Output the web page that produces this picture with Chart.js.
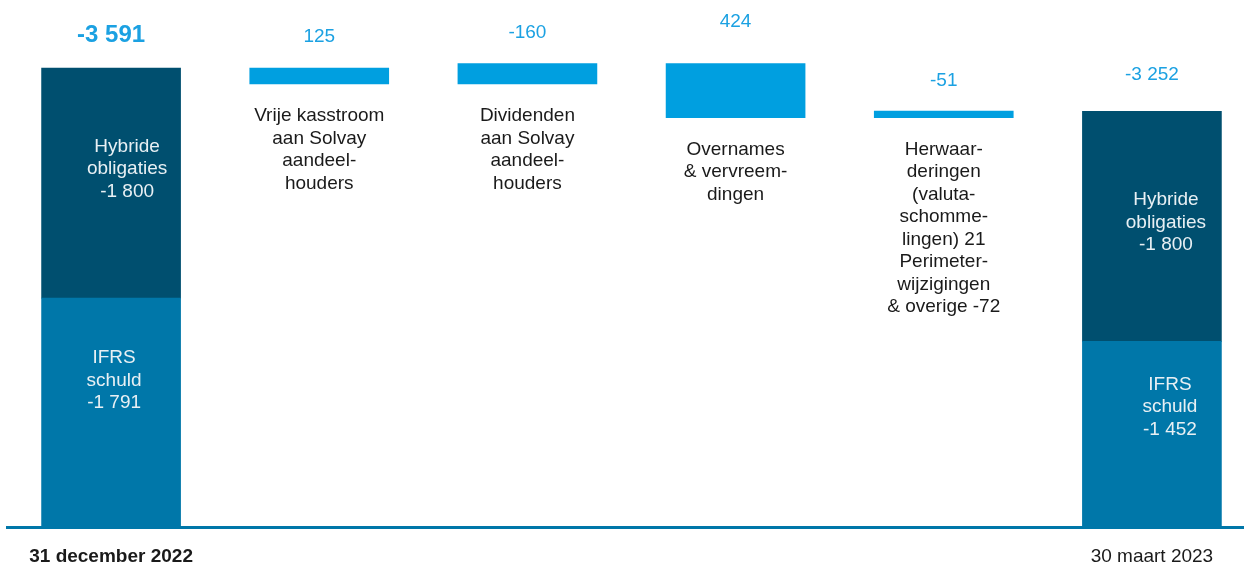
<!DOCTYPE html>
<html>
<head>
<meta charset="utf-8">
<script src="https://cdn.jsdelivr.net/npm/chart.js@4/dist/chart.umd.min.js"></script>
<style>
  html, body { margin: 0; padding: 0; background: #fff; overflow: hidden; }
  #wrap { width: 1256px; height: 567px; }
</style>
</head>
<body>
<div id="wrap"><canvas id="chart"></canvas></div>
<script>
// net debt bridge, EUR million
const categories = [
  ["31 december 2022"],
  ["Vrije kasstroom", "aan Solvay", "aandeel-", "houders"],
  ["Dividenden", "aan Solvay", "aandeel-", "houders"],
  ["Overnames", "& vervreem-", "dingen"],
  ["Herwaar-", "deringen", "(valuta-", "schomme-", "lingen) 21", "Perimeter-", "wijzigingen", "& overige -72"],
  ["30 maart 2023"]
]
const ifrsDebt = [-1791, null, null, null, null, -1452]
const hybridBonds = [-1800, null, null, null, null, -1800]
const movements = [null, 125, -160, 424, -51, null]
const totals = [-3591, null, null, null, null, -3252]
const valueLabels = ["-3 591", "125", "-160", "424", "-51", "-3 252"]

const FONT = "'Liberation Sans', Arial, sans-serif"

// debt shown as positive height, floating bars for the bridge
const ifrsBars = ifrsDebt.map(v => v === null ? null : [0, -v])
const hybridBars = hybridBonds.map((v, i) => v === null ? null : [-ifrsDebt[i], -ifrsDebt[i] - v])
let level = -totals[0]
const moveBars = movements.map(v => {
  if (v === null) return null
  const next = level - v
  const bar = [Math.min(level, next), Math.max(level, next)]
  level = next
  return bar
})

const barLabels = {
  id: "barLabels",
  afterDatasetsDraw(chart, args, opts) {
    const ctx = chart.ctx
    const lh = 22.5
    ctx.save()
    ctx.textAlign = "center"
    ctx.textBaseline = "middle"

    const lines = (txt, x, y) => txt.forEach((t, k) => ctx.fillText(t, x, y + k * lh))

    // text inside the stacked total bars
    const inner = [
      { ds: 1, name: ["Hybride", "obligaties"], vals: hybridBonds, dx: [16, 0, 0, 0, 0, 14], dy: [-14, 0, 0, 0, 0, -4] },
      { ds: 0, name: ["IFRS", "schuld"], vals: ifrsDebt, dx: [3, 0, 0, 0, 0, 18], dy: [-32, 0, 0, 0, 0, -27] }
    ]
    ctx.fillStyle = "#e8f0f4"
    ctx.font = "19px " + FONT
    inner.forEach(s => {
      chart.getDatasetMeta(s.ds).data.forEach((bar, i) => {
        if (s.vals[i] === null) return
        const mid = (bar.y + bar.base) / 2 + s.dy[i]
        const txt = [...s.name, "-" + Math.abs(s.vals[i]).toLocaleString("fr-FR").replace(/\s/g, " ")]
        lines(txt, bar.x + s.dx[i], mid - lh)
      })
    })

    // values above and descriptions below
    const gaps = opts.valueGaps
    const top = i => {
      const m = chart.getDatasetMeta(movements[i] === null ? 1 : 2).data[i]
      return Math.min(m.y, m.base)
    }
    categories.forEach((c, i) => {
      const first = i === 0
      ctx.fillStyle = "#1ba1e2"
      ctx.font = (first ? "bold 24px " : "19px ") + FONT
      const x = chart.getDatasetMeta(0).data[i].x
      ctx.fillText(valueLabels[i], x, top(i) - gaps[i])
      if (movements[i] !== null) {
        const m = chart.getDatasetMeta(2).data[i]
        ctx.fillStyle = "#1a1a1a"
        ctx.font = "19px " + FONT
        lines(c, x, Math.max(m.y, m.base) + 32)
      }
    })
    ctx.restore()
  }
}

const config = {
  type: "bar",
  data: {
    labels: categories,
    datasets: [
      { label: "IFRS schuld", data: ifrsBars, backgroundColor: "#0077a9" },
      { label: "Hybride obligaties", data: hybridBars, backgroundColor: "#004f6f" },
      { label: "Bewegingen", data: moveBars, backgroundColor: "#009fe0" }
    ]
  },
  options: {
    responsive: true,
    maintainAspectRatio: false,
    animation: false,
    layout: { padding: { left: 7, right: 0, top: 0, bottom: 0 } },
    datasets: { bar: { grouped: false, barThickness: 139 } },
    scales: {
      x: {
        grid: { display: false, drawTicks: false },
        border: { display: true, color: "#0077a9", width: 3 },
        ticks: {
          padding: 18,
          maxRotation: 0,
          autoSkip: false,
          color: "#1a1a1a",
          font: c => ({ family: FONT, size: 19, weight: c.index === 0 ? "bold" : "normal" }),
          callback: (v, i) => (i === 0 || i === categories.length - 1) ? categories[i][0] : ""
        },
        afterFit: s => { s.height = 40 }
      },
      y: { display: false, min: 0, max: 4123 }
    },
    plugins: {
      legend: { display: false },
      tooltip: { enabled: false },
      barLabels: { valueGaps: [33, 31, 31, 42, 30, 37] }
    }
  },
  plugins: [barLabels]
}

new Chart(document.getElementById("chart"), config)
</script>
</body>
</html>
